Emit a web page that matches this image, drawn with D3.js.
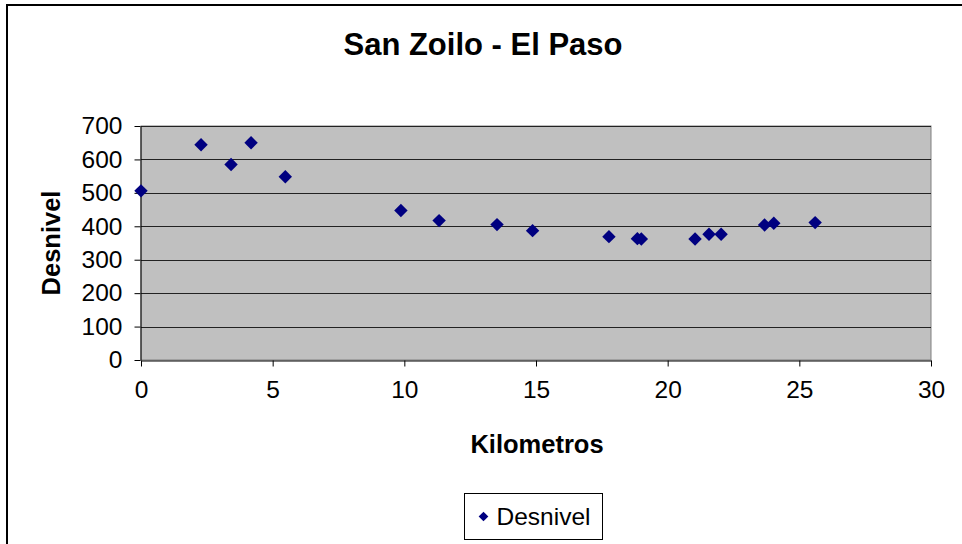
<!DOCTYPE html>
<html>
<head>
<meta charset="utf-8">
<script src="https://cdn.jsdelivr.net/npm/d3@7"></script>
<style>
  body { margin: 0; background: #fff; }
  svg text { font-family: Arial, "Liberation Sans", sans-serif; }
</style>
</head>
<body>
<div id="chart"></div>
<script>
// data
const kilometros = [0, 2.28, 3.42, 4.18, 5.48, 9.87, 11.32, 13.52, 14.87, 17.77, 18.85, 19.0, 21.04, 21.57, 22.03, 23.68, 24.03, 25.6];
const desnivel   = [506, 644, 585, 650, 548, 447, 417, 405, 387, 369, 363, 362, 362, 376, 376, 404, 409, 411];
const xTicks = [0, 5, 10, 15, 20, 25, 30];
const yTicks = [0, 100, 200, 300, 400, 500, 600, 700];

const points = kilometros.map((k, i) => ({ k, d: desnivel[i] }));

const width = 962, height = 544;
const plot = { left: 141, right: 931, top: 126, bottom: 360 };

const svg = d3.select("#chart").append("svg")
    .attr("width", width)
    .attr("height", height);

// outer frame (left + top only visible)
svg.append("path")
    .attr("d", `M7,${height} V5 H${width}`)
    .attr("fill", "none")
    .attr("stroke", "#000")
    .attr("stroke-width", 2);

const x = d3.scaleLinear().domain([0, 30]).range([plot.left, plot.right]);
const y = d3.scaleLinear().domain([0, 700]).range([plot.bottom, plot.top]);

// plot background
svg.append("rect")
    .attr("x", plot.left).attr("y", plot.top)
    .attr("width", plot.right - plot.left)
    .attr("height", plot.bottom - plot.top)
    .attr("fill", "#c0c0c0")
    .attr("stroke", "#808080")
    .attr("stroke-width", 1);

// gridlines
svg.append("g")
    .selectAll("line")
    .data(yTicks.filter(t => t > 0))
    .join("line")
    .attr("x1", plot.left).attr("x2", plot.right)
    .attr("y1", d => Math.round(y(d)) + 0.5)
    .attr("y2", d => Math.round(y(d)) + 0.5)
    .attr("stroke", "#222")
    .attr("stroke-width", 1);

// y axis
const yAxis = svg.append("g")
    .attr("transform", `translate(${plot.left - 0.5},0)`)
    .call(d3.axisLeft(y).tickValues(yTicks).tickSize(6).tickSizeOuter(0).tickPadding(12));
yAxis.select(".domain").attr("stroke", "#000");
yAxis.selectAll("line").attr("stroke", "#000");
yAxis.selectAll("text")
    .style("font-size", "24.5px")
    .attr("fill", "#000");

// x axis
const xAxis = svg.append("g")
    .attr("transform", `translate(0,${plot.bottom + 0.5})`)
    .call(d3.axisBottom(x).tickValues(xTicks).tickSize(6).tickSizeOuter(0).tickPadding(14));
xAxis.select(".domain").attr("stroke", "#000");
xAxis.selectAll("line").attr("stroke", "#000");
xAxis.selectAll("text")
    .style("font-size", "24.5px")
    .attr("fill", "#000");

// markers
const diamond = d3.symbol().type(d3.symbolDiamond2).size(115);
svg.append("g")
    .selectAll("path")
    .data(points)
    .join("path")
    .attr("d", diamond)
    .attr("transform", d => `translate(${x(d.k)},${y(d.d)})`)
    .attr("fill", "#000080");

// title
svg.append("text")
    .attr("x", 483).attr("y", 55)
    .attr("text-anchor", "middle")
    .style("font-size", "31px")
    .style("font-weight", "bold")
    .text("San Zoilo - El Paso");

// axis titles
svg.append("text")
    .attr("x", (plot.left + plot.right) / 2 + 1).attr("y", 453)
    .attr("text-anchor", "middle")
    .style("font-size", "25.5px")
    .style("font-weight", "bold")
    .text("Kilometros");

svg.append("text")
    .attr("transform", `translate(60,${243}) rotate(-90)`)
    .attr("text-anchor", "middle")
    .style("font-size", "25.5px")
    .style("font-weight", "bold")
    .text("Desnivel");

// legend
const legend = svg.append("g").attr("transform", "translate(464.5,493.5)");
legend.append("rect")
    .attr("width", 138).attr("height", 46)
    .attr("fill", "#fff")
    .attr("stroke", "#000");
legend.append("path")
    .attr("d", d3.symbol().type(d3.symbolDiamond2).size(60))
    .attr("transform", "translate(19,23)")
    .attr("fill", "#000080");
legend.append("text")
    .attr("x", 32).attr("y", 31)
    .style("font-size", "24.5px")
    .text("Desnivel");
</script>
</body>
</html>
